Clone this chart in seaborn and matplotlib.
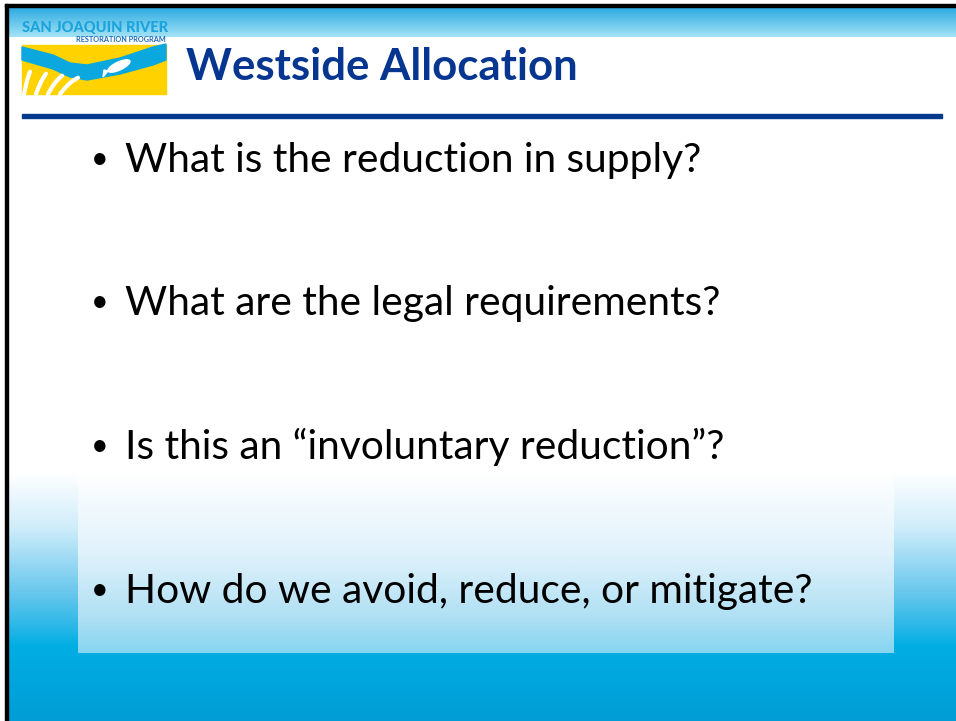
import numpy as np
import seaborn as sns
import matplotlib
import matplotlib.pyplot as plt
from matplotlib.colors import LinearSegmentedColormap
from matplotlib.patches import Rectangle, Polygon, Ellipse

matplotlib.use("agg")

# slide content
title = "Westside Allocation"
bullets = [
    "What is the reduction in supply?",
    "What are the legal requirements?",
    "Is this an \u201cinvoluntary reduction\u201d?",
    "How do we avoid, reduce, or mitigate?",
]
logo_name = "SAN JOAQUIN RIVER"
logo_sub = "RESTORATION PROGRAM"

W, H = 956, 721

sns.set_theme(style="white")
plt.rcParams["font.family"] = ["Lato", "DejaVu Sans"]


def vgrad(ax, x0, x1, y0, y1, stops, z):
    # vertical gradient, stops = [(pos, colour), ...] top -> bottom
    cmap = LinearSegmentedColormap.from_list("g", stops)
    g = np.linspace(0, 1, 256).reshape(-1, 1)
    ax.imshow(g, cmap=cmap, extent=(x0, x1, y1, y0), aspect="auto",
              interpolation="bilinear", zorder=z)


fig = plt.figure(figsize=(W / 100, H / 100), dpi=100)
ax = fig.add_axes([0, 0, 1, 1])

# header strip
vgrad(ax, 5, W, 7, 37, [(0, "#2aa9e0"), (1, "#a3e3f6")], 1)

# bottom water background
vgrad(ax, 5, W, 472, H, [(0, "#ffffff"), (0.22, "#d0edfa"), (0.5, "#62c5ec"),
                         (0.65, "#1cb4e6"), (0.7, "#00aee3"), (1, "#009dd6")], 1)
# pale text panel
vgrad(ax, 78, 894, 472, 653, [(0, "#ffffff"), (0.45, "#e0f2fb"),
                              (0.8, "#b0e0f4"), (1, "#86d5f0")], 2)

# frame lines
ax.add_patch(Rectangle((5, 4), W - 5, 3, color="black", zorder=5))
ax.add_patch(Rectangle((5, 4), 3, H - 4, color="black", zorder=5))

# title rule
ax.add_patch(Rectangle((22, 114), 920, 4, color="#033a8e", zorder=3))

# logo picture
ax.add_patch(Rectangle((22, 45), 144, 49, color="#ffd200", zorder=3))
rx = [22, 53, 70, 87, 120, 153, 166]
top = [47, 55, 63, 65, 58, 47, 44]
bot = [60, 69, 77, 80, 74, 65, 60]
river = list(zip(rx, top)) + list(zip(rx[::-1], bot[::-1]))
ax.add_patch(Polygon(river, closed=True, color="#0aa8de", zorder=4))
ax.add_patch(Ellipse((119, 66), 24, 8, angle=-25, color="white", zorder=5))
ax.add_patch(Polygon([(108, 71), (103, 77), (104, 70)], color="white", zorder=5))
for k in range(4):
    xs = np.linspace(0, 1, 20)
    ax.plot(24 + k * 12 + xs * (6 + k * 4), 94 - xs * (22 - k * 2) - np.sin(xs * 3) * 2,
            color="white", lw=3, solid_capstyle="round", zorder=5)
ax.text(22, 32, logo_name, fontsize=10.5, fontweight="black", color="#1aa3dc",
        ha="left", va="baseline", zorder=5)
ax.text(166, 42, logo_sub, fontsize=5.2, fontweight="bold", color="#1b6bb8",
        ha="right", va="baseline", zorder=5)

# title
ax.text(186, 80, title, fontsize=31.5, fontweight="bold", color="#06368f",
        ha="left", va="baseline", zorder=5)

# bullets
base = [172, 315, 459, 603]
for y, txt in zip(base, bullets):
    ax.text(91, y - 4, "\u2022", fontsize=22, color="black", ha="left", va="baseline", zorder=5)
    ax.text(125, y, txt, fontsize=29.3, color="black", ha="left", va="baseline", zorder=5)

ax.set_xlim(0, W)
ax.set_ylim(H, 0)
ax.axis("off")

fig.savefig("out.png", dpi=100)
